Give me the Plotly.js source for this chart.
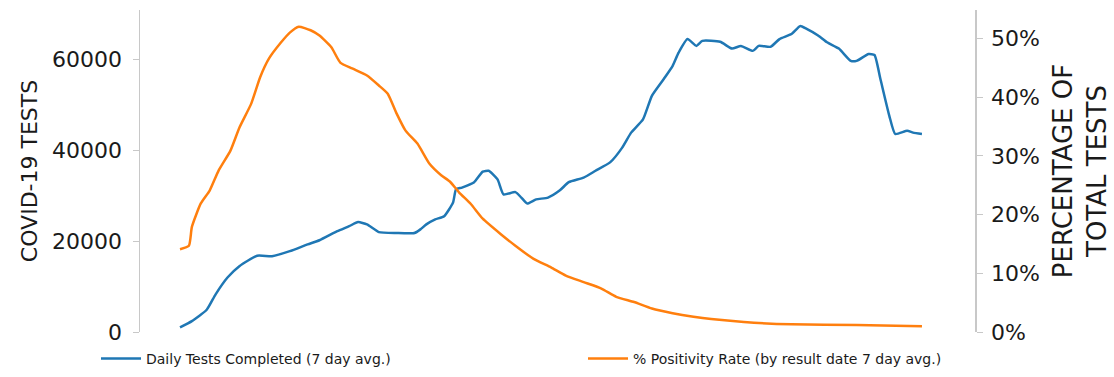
<!DOCTYPE html>
<html>
<head>
<meta charset="utf-8">
<script src="https://cdn.plot.ly/plotly-3.0.1.min.js"></script>
<style>html,body{margin:0;padding:0;background:#fff;}#chart{width:1114px;height:377px;}</style>
</head>
<body>
<div id="chart"></div>
<script>
const testDays = [0,4,9,12,16,20,26,31,37,43,47,53,57,60,63,67,73,79,81,83,86,89,92,93,95,99,102,104,107,109,113,115,117,120,124,128,131,136,140,145,149,152,156,159,163,166,168,171,174,176,182,186,189,193,195,199,202,206,209,211,215,218,222,226,228,232,234,236,239,241,245,247,250];
const dailyTests = [1000,2400,4900,8300,12000,14500,16800,16700,17800,19300,20200,22200,23300,24200,23700,22000,21800,21800,22600,23700,24800,25500,28500,31400,31800,32900,35300,35500,33600,30300,30800,29600,28300,29200,29600,31200,33000,34000,35500,37400,40600,43900,46800,52000,55700,58600,61500,64500,63000,64100,63900,62400,63000,61900,63000,62800,64500,65600,67400,66800,65300,63800,62400,59700,59700,61200,61000,55700,47600,43600,44300,43900,43600];
const posDays = [0,3,4,7,10,13,17,20,24,27,30,34,37,40,44,47,51,54,58,63,67,70,73,76,80,84,88,91,94,98,102,108,113,119,125,130,136,142,147,153,159,166,173,179,190,206,228,250];
const positivity = [14.1,14.7,17.9,21.9,24.1,27.5,30.9,34.8,38.9,43.4,46.6,49.3,51.0,52.0,51.4,50.5,48.5,45.9,44.9,43.7,42.0,40.6,37.2,34.3,32.1,28.7,26.7,25.6,23.8,21.8,19.3,16.7,14.7,12.5,11.0,9.6,8.5,7.4,6.0,5.1,4.0,3.2,2.6,2.2,1.7,1.3,1.2,1.0];
const leftTicks = [0,20000,40000,60000];
const rightTicks = [0,10,20,30,40,50];
const seriesNames = ['Daily Tests Completed (7 day avg.)','% Positivity Rate (by result date 7 day avg.)'];

const font = 'DejaVu Sans, sans-serif';
const data = [
  {x: testDays, y: dailyTests, type: 'scatter', mode: 'lines', name: seriesNames[0],
   line: {color: '#1f77b4', width: 2.5, shape: 'spline', smoothing: 0.5}, yaxis: 'y', legend: 'legend'},
  {x: posDays, y: positivity, type: 'scatter', mode: 'lines', name: seriesNames[1],
   line: {color: '#ff7f0e', width: 2.5, shape: 'spline', smoothing: 0.5}, yaxis: 'y2', legend: 'legend2'}
];
const plotW = 1114 - 140 - 139, plotH = 377 - 0 - 45;
const yDomain = [0, (plotH - 10) / plotH];
const legendStyle = {orientation: 'h', xref: 'paper', xanchor: 'left', yref: 'paper', y: -43 / plotH, yanchor: 'bottom',
                     font: {size: 14, family: font, color: '#1a1a1a'}, itemwidth: 40};
const layout = {
  width: 1114, height: 377,
  margin: {l: 140, r: 139, t: 0, b: 45},
  paper_bgcolor: '#fff', plot_bgcolor: '#fff',
  font: {family: font, color: '#1a1a1a', size: 22},
  showlegend: true,
  legend: Object.assign({}, legendStyle, {x: (96 - 140) / plotW}),
  legend2: Object.assign({}, legendStyle, {x: (583 - 140) / plotW}),
  xaxis: {visible: false, range: [-13.48, 267.87]},
  yaxis: {domain: yDomain, range: [0, 70900], tickvals: leftTicks, ticktext: leftTicks.map(String),
          showline: true, linecolor: '#c8c8c8', linewidth: 1.5, ticks: 'outside', ticklen: 6,
          tickcolor: '#c8c8c8', showgrid: false, zeroline: false, ticklabelstandoff: 6,
          tickfont: {size: 22}, automargin: true,
          title: {text: 'COVID-19 TESTS', font: {size: 22}, standoff: 8}},
  yaxis2: {domain: yDomain, range: [0, 54.85], overlaying: 'y', side: 'right', tickvals: rightTicks,
           ticktext: rightTicks.map(v => v + '%'),
           showline: true, linecolor: '#c8c8c8', linewidth: 1.5, ticks: 'outside', ticklen: 6,
           tickcolor: '#c8c8c8', showgrid: false, zeroline: false, ticklabelstandoff: 4,
           tickfont: {size: 22}, automargin: true,
           title: {text: 'PERCENTAGE OF<br>TOTAL TESTS', font: {size: 26}, standoff: 15}}
};
Plotly.newPlot('chart', data, layout, {staticPlot: true});
</script>
</body>
</html>
